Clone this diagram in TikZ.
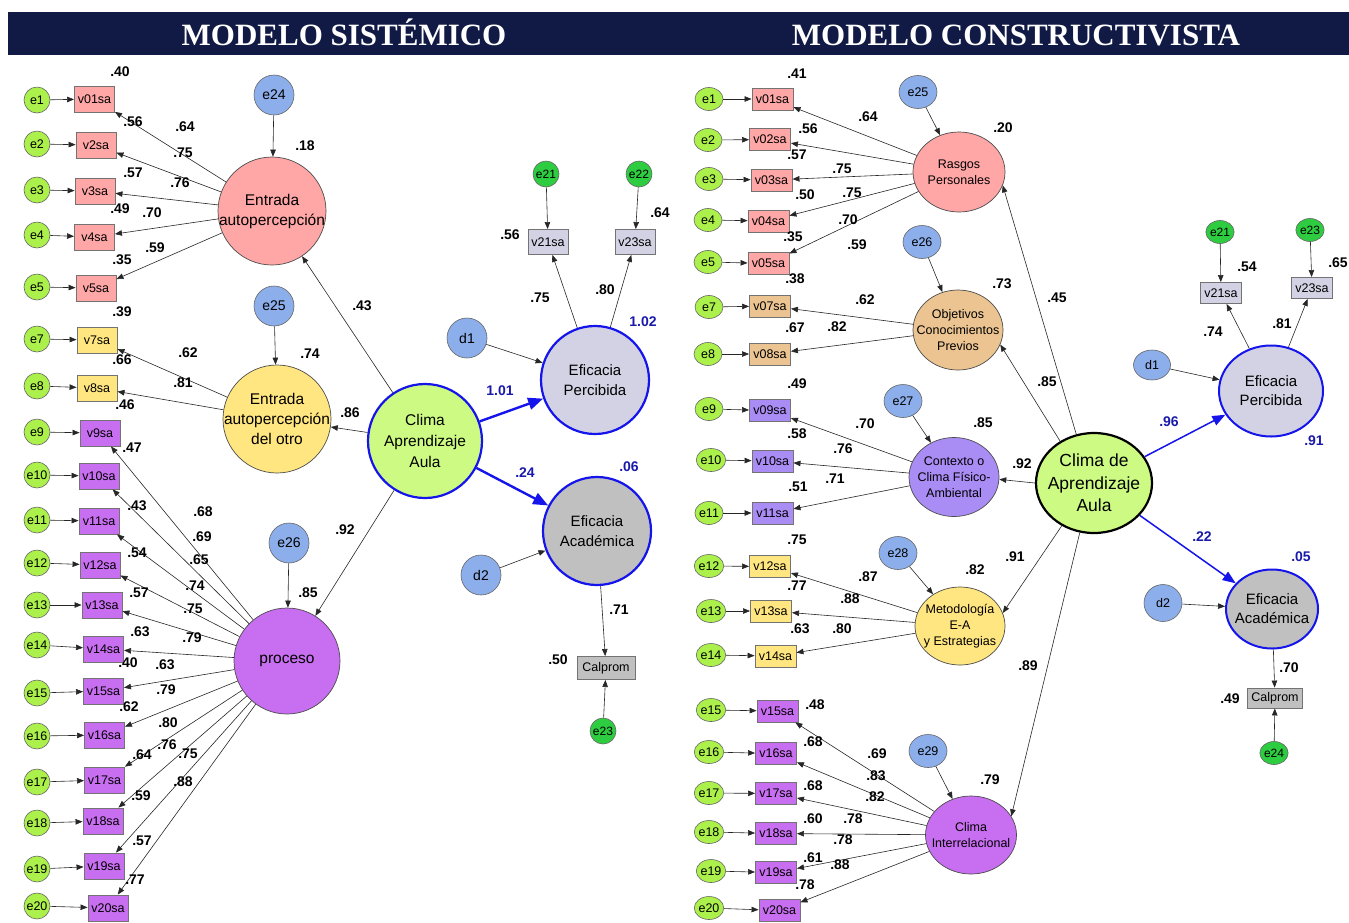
\documentclass[tikz,border=0pt]{standalone}
\usepackage{fontspec}
\setmainfont{Liberation Sans}
\newfontfamily\titlefont{Liberation Serif}
\usetikzlibrary{arrows.meta,shapes.geometric}
\definecolor{navyc}{RGB}{17,26,69}
\definecolor{limec}{RGB}{172,240,76}
\definecolor{dgreenc}{RGB}{46,204,64}
\definecolor{bluec}{RGB}{140,174,234}
\definecolor{pinkc}{RGB}{255,166,166}
\definecolor{yelc}{RGB}{255,230,128}
\definecolor{purc}{RGB}{200,110,240}
\definecolor{lilc}{RGB}{170,140,245}
\definecolor{tanc}{RGB}{235,196,145}
\definecolor{efpc}{RGB}{210,210,228}
\definecolor{efac}{RGB}{192,192,192}
\definecolor{climac}{RGB}{204,250,130}
\definecolor{bluelbl}{RGB}{25,25,170}
\definecolor{bluearr}{RGB}{20,20,235}
\begin{document}
\begin{tikzpicture}[x=1pt,y=-1pt,
  arr/.style={draw=black!85, line width=0.6pt, -{Triangle[length=7pt,width=5.5pt]}},
  barr/.style={draw=bluearr, line width=2.4pt, -{Triangle[length=15pt,width=12pt]}},
  barrR/.style={draw=bluearr, line width=1.5pt, -{Triangle[length=13pt,width=10pt]}},
  errL/.style={circle, draw=black!60, line width=0.6pt, fill=limec, minimum size=26pt, inner sep=0pt, font=\fontsize{12.5}{12.5}\selectfont},
  errR/.style={ellipse, draw=black!60, line width=0.6pt, fill=limec, minimum width=28pt, minimum height=23pt, inner sep=0pt, font=\fontsize{12.5}{12.5}\selectfont},
  errG/.style={circle, draw=black!60, line width=0.6pt, fill=dgreenc, minimum size=26pt, inner sep=0pt, font=\fontsize{12}{12}\selectfont},
  errGR/.style={ellipse, draw=black!60, line width=0.6pt, fill=dgreenc, minimum width=26pt, minimum height=23pt, inner sep=0pt, font=\fontsize{12}{12}\selectfont},
  errB/.style={circle, draw=black!60, line width=0.6pt, fill=bluec, minimum size=40pt, inner sep=0pt, font=\fontsize{14}{14}\selectfont},
  errBR/.style={ellipse, draw=black!60, line width=0.6pt, fill=bluec, minimum width=38pt, minimum height=33pt, inner sep=0pt, font=\fontsize{12.5}{12.5}\selectfont},
  bxL/.style={rectangle, draw=black!55, line width=0.9pt, minimum width=40pt, minimum height=26pt, inner sep=0pt, font=\fontsize{12.5}{12.5}\selectfont},
  bxR/.style={rectangle, draw=black!55, line width=0.9pt, minimum width=41pt, minimum height=22pt, inner sep=0pt, font=\fontsize{12.5}{12.5}\selectfont},
  lat/.style={circle, draw=black!70, line width=0.7pt, inner sep=0pt},
  latE/.style={ellipse, draw=black!70, line width=0.7pt, inner sep=0pt},
  ltxt/.style={align=center, inner sep=0pt, font=\fontsize{15.5}{20}\selectfont},
  rtxt/.style={align=center, inner sep=0pt, font=\fontsize{12.5}{16}\selectfont},
  lbl/.style={inner sep=0pt, font=\bfseries\fontsize{14}{14}\selectfont},
  blbl/.style={lbl, text=bluelbl},
  ttl/.style={text=white, anchor=base, inner sep=0pt, font=\titlefont\bfseries\fontsize{31}{31}\selectfont}]
\useasboundingbox (0,0) rectangle (1349,922);
% header
\node[fill=navyc, minimum width=1341pt, minimum height=43pt, inner sep=0pt, anchor=north west] (hdr) at (8,12) {};
\node[ttl] (t1) at (344,45.5) {MODELO SISTÉMICO};
\node[ttl] (t2) at (1016,45.5) {MODELO CONSTRUCTIVISTA};

% ================= LEFT =================
\foreach \i/\ey/\bx/\by/\t/\c in {
1/100/94.5/99/v01sa/pinkc, 2/144/96/145/v2sa/pinkc, 3/190/95/191/v3sa/pinkc,
4/235/94.5/237/v4sa/pinkc, 5/287/96/288/v5sa/pinkc, 7/339/97/340/v7sa/yelc,
8/386/97/388/v8sa/yelc, 9/432/100/433/v9sa/purc, 10/475/99/476/v10sa/purc,
11/520/99/521/v11sa/purc, 12/563/100/565/v12sa/purc, 13/605/102/605/v13sa/purc,
14/645/103.5/649/v14sa/purc, 15/693/103.5/691/v15sa/purc, 16/736/104.5/735/v16sa/purc,
17/782/104.5/780/v17sa/purc, 18/823/103/821/v18sa/purc, 19/869/104/866/v19sa/purc,
20/906/108/908/v20sa/purc}{
  \node[errL] (Le\i) at (37,\ey) {e\i};
  \node[bxL, fill=\c] (Lb\i) at (\bx,\by) {\t};
  \draw[arr] (Le\i) -- (Lb\i);
}
\node[lat, fill=pinkc, minimum size=108pt, label={[ltxt]center:Entrada\\autopercepción}] (EA) at (272,211) {};
\node[lat, fill=yelc, minimum size=108pt, label={[ltxt]center:Entrada\\autopercepción\\del otro}] (EO) at (277,419) {};
\node[lat, fill=purc, minimum size=106pt, label={[ltxt]center:proceso}] (PR) at (287,661) {};
\node[circle, draw=bluearr, line width=2.2pt, fill=climac, minimum size=114pt, inner sep=0pt, label={[ltxt,font=\fontsize{15.5}{21}\selectfont]center:Clima\\Aprendizaje\\Aula}] (CL) at (425,441) {};
\node[circle, draw=bluearr, line width=2.2pt, fill=efpc, minimum size=108pt, inner sep=0pt, label={[ltxt,font=\fontsize{15}{20}\selectfont]center:Eficacia\\Percibida}] (EP) at (595,380) {};
\node[circle, draw=bluearr, line width=2.2pt, fill=efac, minimum size=108pt, inner sep=0pt, label={[ltxt,font=\fontsize{15}{20}\selectfont]center:Eficacia\\Académica}] (EC) at (597,531) {};
\node[errB] (e24) at (274,95) {e24};
\node[errB] (e25) at (274,306) {e25};
\node[errB] (e26) at (289,543) {e26};
\node[errB] (d1) at (467,338) {d1};
\node[errB] (d2) at (481,575) {d2};
\node[errG] (e21) at (546,174) {e21};
\node[errG] (e22) at (639,174) {e22};
\node[errG] (e23) at (603,731) {e23};
\node[bxL, fill=efpc, minimum height=25pt] (b21) at (548,242) {v21sa};
\node[bxL, fill=efpc, minimum height=25pt] (b23) at (635,242) {v23sa};
\node[bxL, fill=efac, minimum width=58pt, minimum height=23pt] (cp) at (606,668) {Calprom};

\foreach \i in {1,...,5} \draw[arr] (EA) -- (Lb\i);
\foreach \i in {7,8} \draw[arr] (EO) -- (Lb\i);
\foreach \i in {9,...,20} \draw[arr] (PR) -- (Lb\i);
\draw[arr] (e24) -- (EA);
\draw[arr] (e25) -- (EO);
\draw[arr] (e26) -- (PR);
\draw[arr] (CL) -- (EA);
\draw[arr] (CL) -- (EO);
\draw[arr] (CL) -- (PR);
\draw[barr] (CL) -- (EP);
\draw[barr] (CL) -- (EC);
\draw[arr] (d1) -- (EP);
\draw[arr] (d2) -- (EC);
\draw[arr] (EP) -- (b21);
\draw[arr] (EP) -- (b23);
\draw[arr] (e21) -- (b21);
\draw[arr] (e22) -- (b23);
\draw[arr] (EC) -- (cp);
\draw[arr] (e23) -- (cp);

\foreach \x/\y/\t [count=\k] in {
120/72/.40, 133/122/.56, 185/127/.64, 183/153/.75, 133/173/.57, 180/183/.76,
120/209/.49, 152/213/.70, 155/248/.59, 122/260/.35, 305/146/.18,
122/312/.39, 122/360/.66, 188/353/.62, 183/383/.81, 125/405/.46, 132/448/.47, 310/354/.74,
203/512/.68, 202/537/.69, 137/506/.43, 199/560/.65, 137/553/.54, 195/586/.74,
139/593/.57, 193/609/.75, 308/593/.85,
140/632/.63, 192/638/.79, 128/663/.40, 165/665/.63, 166/690/.79, 129/707/.62,
168/723/.80, 167/745/.76, 188/754/.75, 142/755/.64, 183/782/.88, 141/796/.59,
142/841/.57, 135/880/.77,
362/306/.43, 350/413/.86, 345/530/.92, 510/235/.56, 660/213/.64, 540/298/.75,
605/290/.80, 558/660/.50, 619/610/.71}
  \node[lbl] (La\k) at (\x,\y) {\t};
\foreach \x/\y/\t [count=\k] in {643/322/1.02, 500/391/1.01, 525/473/.24, 629/467/.06}
  \node[blbl] (Lz\k) at (\x,\y) {\t};

% ================= RIGHT =================
\foreach \i/\ex/\ey/\bx/\by/\t/\c in {
1/709/99/772.5/99/v01sa/pinkc, 2/708/140/770/139.5/v02sa/pinkc, 3/709/179/771.5/180/v03sa/pinkc,
4/708/220/768.5/221/v04sa/pinkc, 5/708/262/768.5/263.5/v05sa/pinkc,
7/709/307/770/306/v07sa/tanc, 8/708/354/770/354/v08sa/tanc,
9/709/409/770/410.5/v09sa/lilc, 10/711/460/772.5/461/v10sa/lilc, 11/709/513/772.5/513/v11sa/lilc,
12/709/566/770/566.5/v12sa/yelc, 13/711/611/771/611/v13sa/yelc, 14/711/655/775.5/656/v14sa/yelc,
15/711/710/777.5/711/v15sa/purc, 16/709/752/776/753.5/v16sa/purc, 17/709/793/776/793.5/v17sa/purc,
18/709/832/776/833.5/v18sa/purc, 19/711/871/776/872.5/v19sa/purc, 20/709/908/779.5/910.5/v20sa/purc}{
  \node[errR] (Re\i) at (\ex,\ey) {e\i};
  \node[bxR, fill=\c] (Rb\i) at (\bx,\by) {\t};
  \draw[arr] (Re\i) -- (Rb\i);
}
\node[latE, fill=pinkc, minimum width=92pt, minimum height=80pt, label={[rtxt]center:Rasgos\\Personales}] (RP) at (959,172) {};
\node[latE, fill=tanc, minimum width=90pt, minimum height=80pt, label={[rtxt]center:Objetivos\\Conocimientos\\Previos}] (OB) at (958,330) {};
\node[latE, fill=lilc, minimum width=90pt, minimum height=79pt, label={[rtxt]center:Contexto o\\Clima Físico-\\Ambiental}] (CX) at (954,477) {};
\node[latE, fill=yelc, minimum width=90pt, minimum height=78pt, label={[rtxt]center:Metodología\\E-A\\y Estrategias}] (ME) at (960,626) {};
\node[latE, fill=purc, minimum width=91pt, minimum height=78pt, label={[rtxt]center:Clima\\Interrelacional}] (CI) at (971,835) {};
\node[ellipse, draw=black, line width=2.2pt, fill=climac, minimum width=116pt, minimum height=100pt, inner sep=0pt, label={[align=center,inner sep=0pt,font=\fontsize{17.5}{22.5}\selectfont]center:Clima de\\Aprendizaje\\Aula}] (CR) at (1094,483) {};
\node[ellipse, draw=bluearr, line width=2pt, fill=efpc, minimum width=104pt, minimum height=91pt, inner sep=0pt, label={[align=center,inner sep=0pt,font=\fontsize{15}{19}\selectfont]center:Eficacia\\Percibida}] (RE) at (1271,391) {};
\node[ellipse, draw=bluearr, line width=2pt, fill=efac, minimum width=92pt, minimum height=79pt, inner sep=0pt, label={[align=center,inner sep=0pt,font=\fontsize{15}{19}\selectfont]center:Eficacia\\Académica}] (RA) at (1272,609) {};
\node[errBR] (r25) at (918,92) {e25};
\node[errBR] (r26) at (922,242) {e26};
\node[errBR] (r27) at (903,401) {e27};
\node[errBR] (r28) at (898,553) {e28};
\node[errBR] (r29) at (928,751) {e29};
\node[errBR, minimum width=37pt, minimum height=30pt] (rd1) at (1152,365) {d1};
\node[errBR, minimum width=38pt, minimum height=37pt] (rd2) at (1163,603) {d2};
\node[errGR] (r21) at (1220,232) {e21};
\node[errGR] (r23) at (1310,230) {e23};
\node[errGR] (r24) at (1274,753) {e24};
\node[bxR, fill=efpc, minimum height=21pt] (rb21) at (1221,293) {v21sa};
\node[bxR, fill=efpc, minimum height=21pt] (rb23) at (1312,288) {v23sa};
\node[bxR, fill=efac, minimum width=55pt, minimum height=20pt] (rcp) at (1275,698) {Calprom};

\foreach \i in {1,...,5} \draw[arr] (RP) -- (Rb\i);
\foreach \i in {7,8} \draw[arr] (OB) -- (Rb\i);
\foreach \i in {9,10,11} \draw[arr] (CX) -- (Rb\i);
\foreach \i in {12,13,14} \draw[arr] (ME) -- (Rb\i);
\foreach \i in {15,...,20} \draw[arr] (CI) -- (Rb\i);
\draw[arr] (r25) -- (RP);
\draw[arr] (r26) -- (OB);
\draw[arr] (r27) -- (CX);
\draw[arr] (r28) -- (ME);
\draw[arr] (r29) -- (CI);
\draw[arr] (CR.110) -- (RP.-17);
\draw[arr] (CR.129) -- (OB.-19);
\draw[arr] (CR.180) -- (CX.-3);
\draw[arr] (CR.233) -- (ME.17);
\draw[arr] (CR.254) -- (CI.25);
\draw[barrR] (CR) -- (RE);
\draw[barrR] (CR) -- (RA);
\draw[arr] (rd1) -- (RE);
\draw[arr] (rd2) -- (RA);
\draw[arr] (RE) -- (rb21);
\draw[arr] (RE) -- (rb23);
\draw[arr] (r21) -- (rb21);
\draw[arr] (r23) -- (rb23);
\draw[arr] (RA) -- (rcp);
\draw[arr] (r24) -- (rcp);

\foreach \x/\y/\t [count=\k] in {
797/74/.41, 868/117/.64, 808/129/.56, 797/155/.57, 842/169/.75, 805/195/.50, 852/193/.75,
848/220/.70, 793/237/.35, 857/245/.59, 795/279/.38, 865/300/.62, 795/328/.67, 837/327/.82,
1003/128/.20, 1002/284/.73,
797/384/.49, 865/424/.70, 797/434/.58, 843/449/.76, 835/479/.71, 798/487/.51, 983/423/.85,
1022/464/.92, 797/540/.75, 868/577/.87, 975/570/.82, 1015/557/.91, 797/586/.77, 850/599/.88,
800/629/.63, 842/629/.80, 1028/666/.89,
815/705/.48, 813/742/.68, 877/754/.69, 876/776/.83, 813/786/.68, 875/797/.82, 813/819/.60,
853/819/.78, 843/840/.78, 813/858/.61, 840/865/.88, 805/885/.78, 990/780/.79,
1247/267/.54, 1338/263/.65, 1213/332/.74, 1282/324/.81, 1057/298/.45, 1047/382/.85,
1289/668/.70, 1230/699/.49}
  \node[lbl] (Ra\k) at (\x,\y) {\t};
\foreach \x/\y/\t [count=\k] in {1169/422/.96, 1314/441/.91, 1202/537/.22, 1301/557/.05}
  \node[blbl] (Rz\k) at (\x,\y) {\t};
\end{tikzpicture}
\end{document}
